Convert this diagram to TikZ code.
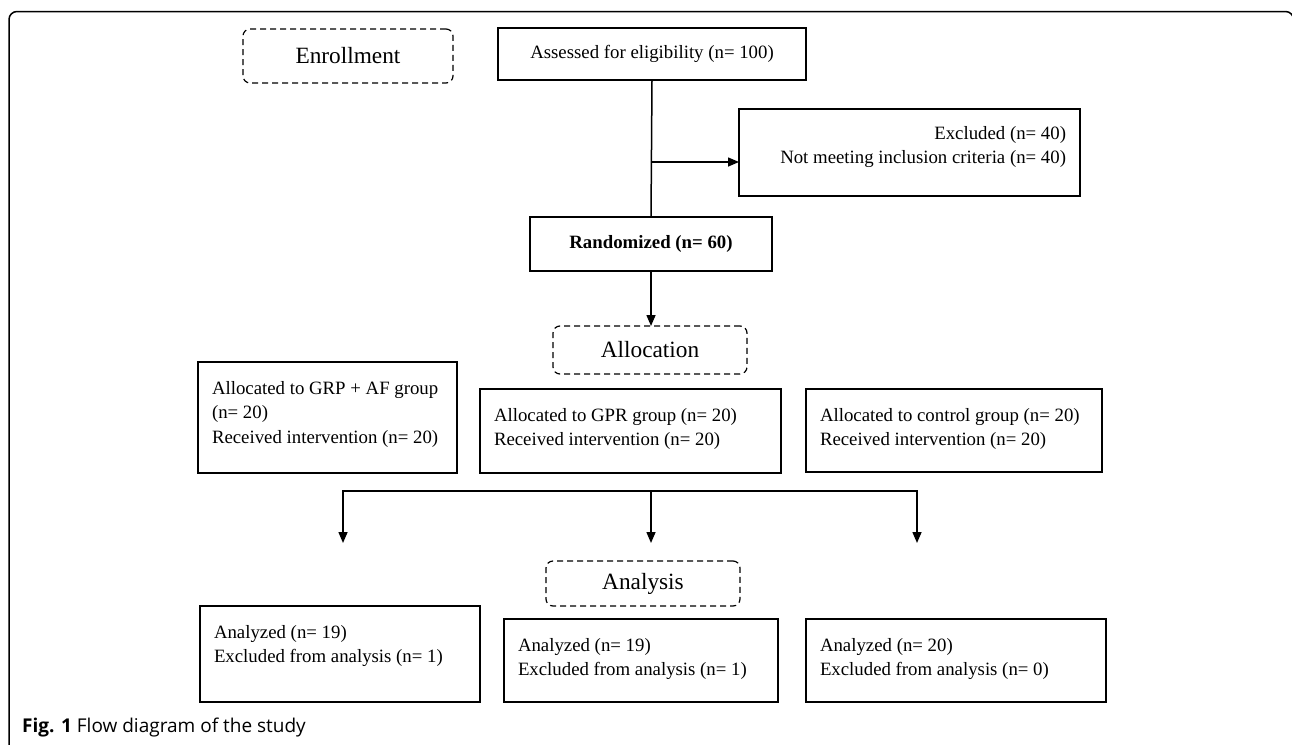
\documentclass[tikz,border=0pt]{standalone}
\usepackage{fontspec}
\setmainfont{Liberation Serif}
\newfontfamily\capfont{Open Sans}
\usetikzlibrary{arrows.meta}
\begin{document}
\begin{tikzpicture}[x=1pt,y=-1pt,
  box/.style={draw, line width=1.2pt, inner sep=0pt, outer sep=0pt, rectangle},
  stage/.style={draw, line width=1.2pt, dash pattern=on 6pt off 4pt, rounded corners=7pt, inner sep=0pt, outer sep=0pt, font=\fontsize{23.3}{28}\selectfont},
  body/.style={inner sep=0pt, outer sep=0pt, align=left, font=\fontsize{18.8}{24.5}\selectfont},
  conn/.style={line width=1.5pt},
  arr/.style={conn, -{Triangle[length=11pt,width=9pt]}}
]
\useasboundingbox (0,0) rectangle (1292,744);
\clip (0,0) rectangle (1292,744);
\draw[line width=1.5pt, rounded corners=8pt] (9,780) -- (9,11.5) -- (1293.5,11.5) -- (1293.5,780);

% Enrollment
\node[stage, minimum width=210pt, minimum height=54pt] (enr) at (348,56) {Enrollment};
\node[box, body, align=center, minimum width=308pt, minimum height=52pt] (assess) at (652,54) {Assessed for eligibility (n= 100)};
\node[box, minimum width=341pt, minimum height=87pt] (excl) at (909.5,152.5) {};
\node[body, align=right, anchor=north east] (excltxt) at (1066,126) {Excluded (n= 40)\\Not meeting inclusion criteria (n= 40)};
\node[box, body, align=center, minimum width=242pt, minimum height=54pt, font=\bfseries\fontsize{18.8}{24.5}\selectfont] (rand) at (651,244) {Randomized (n= 60)};
\coordinate (split) at (651,162);
\draw[conn] (assess.south) -- (rand.north);
\draw[arr] (split) -- (excl.west |- split);

% Allocation
\node[stage, minimum width=194pt, minimum height=48pt] (alloc) at (650,350) {Allocation};
\draw[arr] (rand.south) -- (rand.south |- alloc.north);

\node[box, minimum width=259pt, minimum height=111pt, anchor=north west] (g1) at (198,362) {};
\node[body, anchor=north west] (g1t) at (212,381) {Allocated to GRP + AF group\\(n= 20)\\Received intervention (n= 20)};
\node[box, minimum width=301pt, minimum height=84pt, anchor=north west] (g2) at (480,389) {};
\node[body, anchor=north west] (g2t) at (494,408) {Allocated to GPR group (n= 20)\\Received intervention (n= 20)};
\node[box, minimum width=296pt, minimum height=83pt, anchor=north west] (g3) at (806,389) {};
\node[body, anchor=north west] (g3t) at (820,408) {Allocated to control group (n= 20)\\Received intervention (n= 20)};

% Branching
\coordinate (bm) at (651,491);
\coordinate (tl) at (343,543);
\coordinate (tm) at (651,543);
\coordinate (tr) at (917,543);
\draw[arr] (bm) -| (tl);
\draw[arr] (bm) -| (tr);
\draw[arr] (bm) -- (tm);

% Analysis
\node[stage, minimum width=194pt, minimum height=45pt] (anal) at (643,583.5) {Analysis};

\node[box, minimum width=280pt, minimum height=96pt, anchor=north west] (a1) at (200,606) {};
\node[body, anchor=north west] (a1t) at (214,625) {Analyzed (n= 19)\\Excluded from analysis (n= 1)};
\node[box, minimum width=274pt, minimum height=83pt, anchor=north west] (a2) at (504,619) {};
\node[body, anchor=north west] (a2t) at (518,638) {Analyzed (n= 19)\\Excluded from analysis (n= 1)};
\node[box, minimum width=300pt, minimum height=83pt, anchor=north west] (a3) at (806,619) {};
\node[body, anchor=north west] (a3t) at (820,638) {Analyzed (n= 20)\\Excluded from analysis (n= 0)};

% Caption
\node[anchor=base west, inner sep=0pt, font=\capfont\fontsize{19}{22}\selectfont] (cap) at (22,732) {\textbf{Fig. 1} Flow diagram of the study};
\end{tikzpicture}
\end{document}
